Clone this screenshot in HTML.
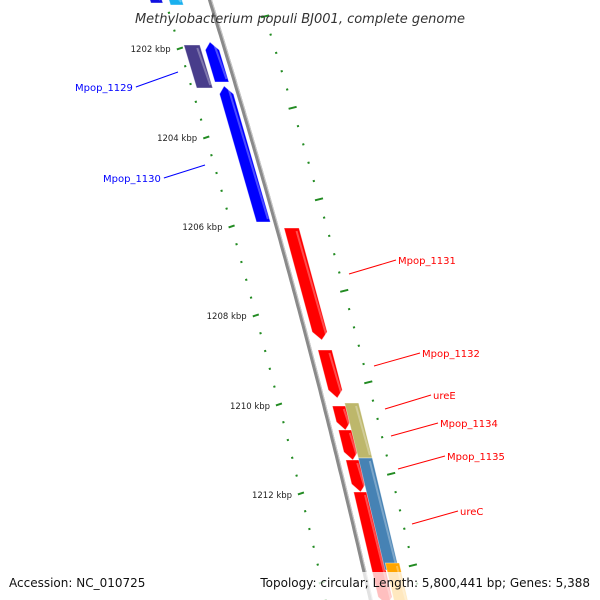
<!DOCTYPE html>
<html><head><meta charset="utf-8"><style>
html,body{margin:0;padding:0;background:#fff;width:600px;height:600px;overflow:hidden;}
svg{display:block;font-family:"DejaVu Sans","Liberation Sans",sans-serif;}
</style></head><body>
<svg id="map" width="600" height="600" viewBox="0 0 600 600">
<g id="rings"></g>
<path id="backbone" fill="none" stroke="#8a8a8a" stroke-width="4"/>
<path id="backbone-hl" fill="none" stroke="#c8c8c8" stroke-width="1"/>
<g id="genes"></g>
<g id="labels"></g>
<g id="kbp"></g>
<text x="300" y="23" text-anchor="middle" font-size="13" font-style="italic" fill="#333">Methylobacterium populi BJ001, complete genome</text>
<rect x="0" y="572" width="600" height="28" fill="#fff" opacity="0.75"/>
<text x="9" y="587" font-size="12" fill="#111">Accession: NC_010725</text>
<text x="590" y="587" text-anchor="end" font-size="12" fill="#111">Topology: circular; Length: 5,800,441 bp; Genes: 5,388</text>
</svg>
<script>
const kbpLabels=["1202 kbp","1204 kbp","1206 kbp","1208 kbp","1210 kbp","1212 kbp"];
const kbpY=[48,137,226,315,405,494];
const geneNames=["cyan","blue0","Mpop_1129","blueA","Mpop_1130","Mpop_1131","Mpop_1132","ureE","Mpop_1134","Mpop_1135","ureC","olive","steel","orange"];
const geneStart=[-5,-5,45,42,86,228,350,406,430,460,492,403,458,563];
const geneEnd=[5,3,88,82,222,340,398,430,460,492,605,458,570,605];
const geneOff0=[-41,-60,-40,-20,-19,7,8,8,8,8,8,21,21,23];
const geneOff1=[-28,-48,-24,-6,-5,22,22,22,22,22,22,35,35,37];
const geneDir=[0,0,0,-1,-1,1,1,1,1,1,1,0,0,0];
const geneColor=["#1ab0ee","#1010e0","#483d8b","#0000ff","#0000ff","#ff0000","#ff0000","#ff0000","#ff0000","#ff0000","#ff0000","#bdb76b","#4682b4","#ffa500"];
const labelText=["Mpop_1129","Mpop_1130","Mpop_1131","Mpop_1132","ureE","Mpop_1134","Mpop_1135","ureC"];
const labelX=[75,103,398,422,433,440,447,460];
const labelY=[91,182,264,357,399,427,460,515];
const lineX=[178,205,349,374,385,391,398,412];
const lineY=[72,165,274,366,409,436,469,524];
const labelColor=["#0000ff","#0000ff","#ff0000","#ff0000","#ff0000","#ff0000","#ff0000","#ff0000"];
const NS="http://www.w3.org/2000/svg";
function bx(y){return 210+0.31*y-0.00007*y*y;}
function mk(t,a,p){const e=document.createElementNS(NS,t);for(const k in a)e.setAttribute(k,a[k]);p.appendChild(e);return e;}
let d="";for(let y=-5;y<=605;y+=5)d+=(y==-5?"M":"L")+bx(y).toFixed(1)+","+y;
document.getElementById('backbone').setAttribute('d',d);
let d2="";for(let y=-5;y<=605;y+=5)d2+=(y==-5?"M":"L")+(bx(y)+1.5).toFixed(1)+","+y;
document.getElementById('backbone-hl').setAttribute('d',d2);
const rings=document.getElementById('rings');
for(let i=0;i<36;i++){const y=-5+i*17.8;const maj=((i-3)%5==0);const x=bx(y)-45;
 const el=mk('line',{x1:x-(maj?3:1),y1:y+(maj?1:0.3),x2:x+(maj?3:1),y2:y-(maj?1:0.3),stroke:'#228b22','stroke-width':2},rings);
 }
for(let i=0;i<36;i++){const y=-2+i*18.3;const maj=((i-1)%5==0);const x=bx(y)+50;
 const el=mk('line',{x1:x-(maj?4:1),y1:y+(maj?1:0.3),x2:x+(maj?4:1),y2:y-(maj?1:0.3),stroke:'#228b22','stroke-width':2},rings);
 }
const genes=document.getElementById('genes');
for(let i=0;i<geneNames.length;i++){
 const y0=geneStart[i],y1=geneEnd[i],o0=geneOff0[i],o1=geneOff1[i],dir=geneDir[i];
 const ah=Math.min(8,(y1-y0)/3);
 let pts=[];
 if(dir==-1){const ym=(y0+ah);pts=[[bx(y0)+(o0+o1)/2,y0],[bx(ym)+o1,ym],[bx(y1)+o1,y1],[bx(y1)+o0,y1],[bx(ym)+o0,ym]];}
 else if(dir==1){const ym=(y1-ah);pts=[[bx(y0)+o0,y0],[bx(y0)+o1,y0],[bx(ym)+o1,ym],[bx(y1)+(o0+o1)/2,y1],[bx(ym)+o0,ym]];}
 else pts=[[bx(y0)+o0,y0],[bx(y0)+o1,y0],[bx(y1)+o1,y1],[bx(y1)+o0,y1]];
 const el=mk('polygon',{points:pts.map(p=>p[0].toFixed(1)+","+p[1].toFixed(1)).join(" "),fill:geneColor[i],stroke:'rgba(255,255,255,0.5)','stroke-width':0.8},genes);
 
 const hl=mk('line',{x1:bx(y0)+o1-2.5,y1:y0+3,x2:bx(y1)+o1-2.5,y2:y1-3,stroke:'rgba(255,255,255,0.3)','stroke-width':2},genes);
 
}
const labels=document.getElementById('labels');
for(let i=0;i<labelText.length;i++){
 const left=labelX[i]<lineX[i];
 const tx=mk('text',{x:labelX[i],y:labelY[i],'font-size':10,fill:labelColor[i]},labels);
 tx.textContent=labelText[i];
 
 const ex=left?labelX[i]+tx.getComputedTextLength()+3:labelX[i]-2;
 const ln=mk('line',{x1:ex,y1:labelY[i]-4,x2:lineX[i],y2:lineY[i],stroke:labelColor[i],'stroke-width':1},labels);
 
}
const kg=document.getElementById('kbp');
for(let i=0;i<kbpLabels.length;i++){
 const y=kbpY[i];const t=mk('text',{x:bx(y)-54,y:y+4,'font-size':8.5,'text-anchor':'end',fill:'#222'},kg);
 t.textContent=kbpLabels[i];
}
</script>
</body></html>
